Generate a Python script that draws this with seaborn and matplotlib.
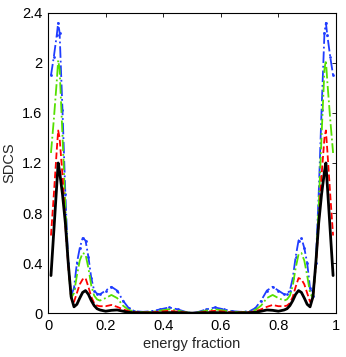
import pandas as pd
import matplotlib.pyplot as plt
import seaborn as sns

# energy fraction grid (denser near the sharp edge peaks)
energy_fraction = [
    0.01, 0.02, 0.03, 0.035, 0.04, 0.05, 0.06, 0.07, 0.08, 0.09, 0.10, 0.11, 0.12, 0.13, 0.14,
    0.15, 0.16, 0.17, 0.18, 0.20, 0.22, 0.24, 0.26, 0.28, 0.30, 0.33, 0.36, 0.39, 0.42, 0.45, 0.48,
    0.50,
    0.52, 0.55, 0.58, 0.61, 0.64, 0.67, 0.70, 0.72, 0.74, 0.76, 0.78, 0.80, 0.82, 0.83, 0.84,
    0.85, 0.86, 0.87, 0.88, 0.89, 0.90, 0.91, 0.92, 0.93, 0.94, 0.95, 0.96, 0.965, 0.97, 0.98, 0.99,
]

sdcs_black = [
    0.30, 0.66, 1.02, 1.20, 1.13, 0.95, 0.72, 0.40, 0.13, 0.05, 0.07, 0.12, 0.165, 0.18, 0.15,
    0.10, 0.06, 0.035, 0.025, 0.015, 0.022, 0.025, 0.015, 0.006, 0.003, 0.002, 0.001, 0.002, 0.004, 0.003, 0.001,
    0.0,
    0.001, 0.003, 0.004, 0.002, 0.001, 0.002, 0.003, 0.006, 0.015, 0.025, 0.022, 0.015, 0.025, 0.035, 0.06,
    0.10, 0.15, 0.18, 0.165, 0.12, 0.07, 0.05, 0.13, 0.40, 0.72, 0.95, 1.13, 1.20, 1.02, 0.66, 0.30,
]

sdcs_red = [
    0.62, 0.95, 1.30, 1.46, 1.40, 1.10, 0.70, 0.38, 0.12, 0.09, 0.16, 0.23, 0.27, 0.28, 0.21,
    0.13, 0.08, 0.06, 0.055, 0.055, 0.065, 0.05, 0.03, 0.015, 0.008, 0.005, 0.006, 0.012, 0.018, 0.012, 0.004,
    0.0,
    0.004, 0.012, 0.018, 0.012, 0.006, 0.005, 0.008, 0.015, 0.03, 0.05, 0.065, 0.055, 0.055, 0.06, 0.08,
    0.13, 0.21, 0.28, 0.27, 0.23, 0.16, 0.09, 0.12, 0.38, 0.70, 1.10, 1.40, 1.46, 1.30, 0.95, 0.62,
]

sdcs_green = [
    1.28, 1.55, 1.85, 2.02, 1.95, 1.42, 0.85, 0.38, 0.12, 0.16, 0.30, 0.42, 0.48, 0.47, 0.36,
    0.22, 0.14, 0.11, 0.10, 0.12, 0.145, 0.12, 0.06, 0.025, 0.012, 0.008, 0.01, 0.02, 0.03, 0.02, 0.006,
    0.0,
    0.006, 0.02, 0.03, 0.02, 0.01, 0.008, 0.012, 0.025, 0.06, 0.12, 0.145, 0.12, 0.10, 0.11, 0.14,
    0.22, 0.36, 0.47, 0.48, 0.42, 0.30, 0.16, 0.12, 0.38, 0.85, 1.42, 1.95, 2.02, 1.85, 1.55, 1.28,
]

sdcs_blue = [
    1.90, 2.05, 2.22, 2.32, 2.24, 1.62, 0.95, 0.40, 0.14, 0.20, 0.40, 0.52, 0.60, 0.58, 0.45,
    0.28, 0.18, 0.155, 0.15, 0.18, 0.21, 0.18, 0.10, 0.04, 0.015, 0.01, 0.015, 0.03, 0.045, 0.03, 0.008,
    0.0,
    0.008, 0.03, 0.045, 0.03, 0.015, 0.01, 0.015, 0.04, 0.10, 0.18, 0.21, 0.18, 0.15, 0.155, 0.18,
    0.28, 0.45, 0.58, 0.60, 0.52, 0.40, 0.20, 0.14, 0.40, 0.95, 1.62, 2.24, 2.32, 2.22, 2.05, 1.90,
]

x_ticks = [0, 0.2, 0.4, 0.6, 0.8, 1]
x_tick_labels = ["0", "0.2", "0.4", "0.6", "0.8", "1"]
y_ticks = [0, 0.4, 0.8, 1.2, 1.6, 2.0, 2.4]
y_tick_labels = ["0", "0.4", "0.8", "1.2", "1.6", "2", "2.4"]

df = pd.DataFrame({
    "x": energy_fraction,
    "black": sdcs_black,
    "red": sdcs_red,
    "green": sdcs_green,
    "blue": sdcs_blue,
})

sns.set_style("white")
plt.rcParams["font.family"] = ["Liberation Sans", "DejaVu Sans"]

fig = plt.figure(figsize=(3.46, 3.57), dpi=100)
ax = fig.add_axes([0.139, 0.123, 0.832, 0.841])

# curves drawn back to front
sns.lineplot(data=df, x="x", y="blue", ax=ax, color="#1f3cff", linestyle="-.",
             marker=".", markersize=4, markeredgewidth=0, linewidth=1.3)
sns.lineplot(data=df, x="x", y="green", ax=ax, color="#55e000", linestyle="-.",
             linewidth=1.3)
sns.lineplot(data=df, x="x", y="red", ax=ax, color="#ff0000", linestyle="--",
             linewidth=1.3)
sns.lineplot(data=df, x="x", y="black", ax=ax, color="black", linestyle="-",
             linewidth=2.0)

ax.set_xlim(0, 1)
ax.set_ylim(0, 2.4)
ax.set_xticks(x_ticks)
ax.set_xticklabels(x_tick_labels)
ax.set_yticks(y_ticks)
ax.set_yticklabels(y_tick_labels)
ax.tick_params(direction="in", top=True, right=True, length=3, width=0.6,
               labelsize=10.5, colors="black", pad=4)
ax.set_xlabel("energy fraction", fontsize=10.5, labelpad=3)
ax.set_ylabel("SDCS", fontsize=10.5, labelpad=4)
for side in ax.spines.values():
    side.set_color("black")
    side.set_linewidth(0.8)

fig.savefig("out.png", dpi=100)
